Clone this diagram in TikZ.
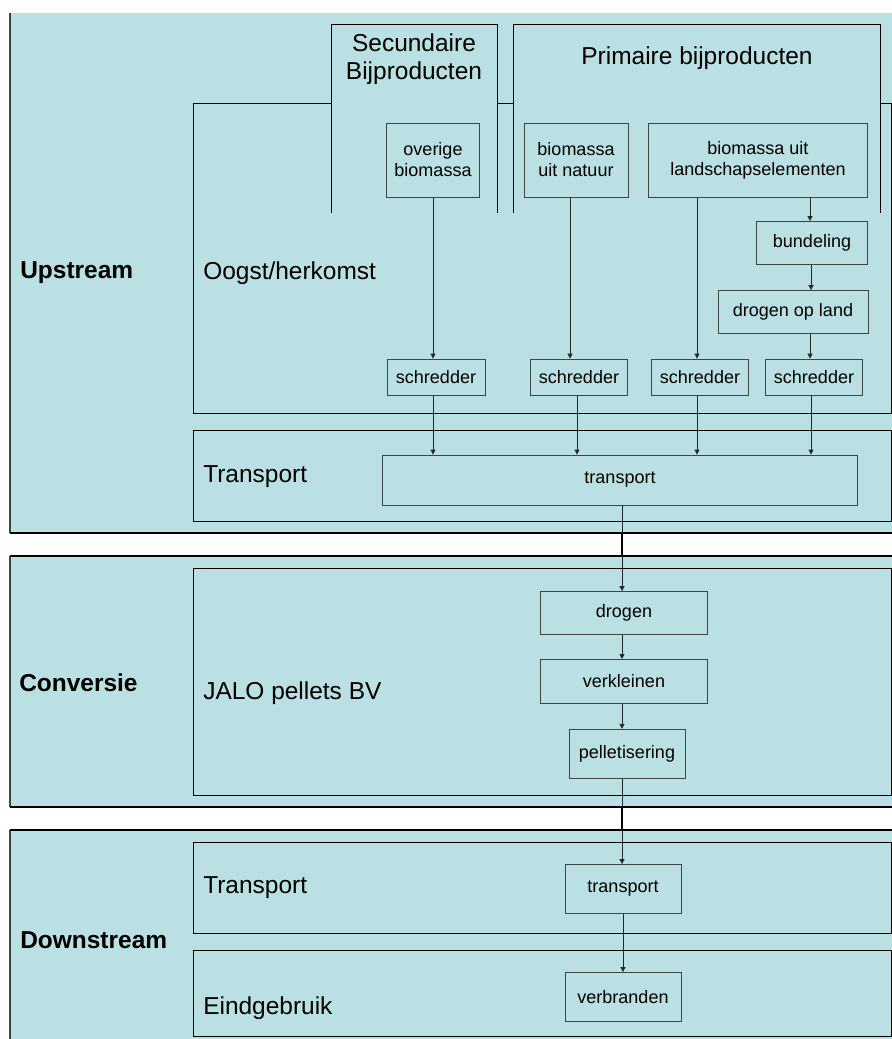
\documentclass[tikz,border=0pt]{standalone}
\usepackage{fontspec}
\setmainfont{Liberation Sans}
\usepackage{tikz}
\usetikzlibrary{arrows.meta, positioning}
\definecolor{bandblue}{RGB}{186,224,228}
\definecolor{edgegray}{RGB}{60,70,72}

\begin{document}
\begin{tikzpicture}[
      x=0.025cm, y=-0.025cm,
      every node/.style={font=\fontsize{12.8}{15}\selectfont},
      proc/.style={draw=edgegray, line width=0.6pt, fill=bandblue, align=center,
                   inner sep=0pt, minimum height=1.85cm},
      lanebox/.style={draw=black, line width=0.6pt},
      lanelabel/.style={anchor=west, inner sep=0pt, font=\fontsize{17.4}{20}\selectfont},
      phase/.style={anchor=west, inner sep=0pt, font=\fontsize{17.4}{20}\selectfont\bfseries},
      flow/.style={-{Triangle[length=3.5pt, width=3.5pt]}, line width=0.6pt, color=black!85},
      gapline/.style={line width=1.6pt},
    ]
    \useasboundingbox (0,0) rectangle (892,1039);

    % Fasen (achtergrond)
    \fill[bandblue] (10,13) rectangle (892,533);
    \fill[bandblue] (10,556) rectangle (892,807);
    \fill[bandblue] (10,830) rectangle (892,1039);
    \draw[edgegray, line width=0.9pt] (10,13) -- (10,533);
    \draw[edgegray, line width=0.9pt] (10,556) -- (10,807);
    \draw[edgegray, line width=0.9pt] (10,830) -- (10,1039);
    \draw[gapline] (10,533) -- (892,533);
    \draw[line width=1pt] (10,556) -- (892,556);
    \draw[gapline] (10,807) -- (892,807);
    \draw[gapline] (10,830) -- (892,830);
    \coordinate (gapA) at (0,533);
    \coordinate (gapB) at (0,556);
    \coordinate (gapC) at (0,807);
    \coordinate (gapD) at (0,830);

    % Banen
    \draw[lanebox] (193,103) rectangle (891,413);
    \draw[lanebox] (193,430) rectangle (891,521);
    \draw[lanebox] (193,568) rectangle (891,795);
    \draw[lanebox] (193,842) rectangle (891,933);
    \draw[lanebox] (193,950) rectangle (891,1036);

    % Herkomst categorieen
    \fill[bandblue] (331,24) rectangle (497,213);
    \draw[lanebox] (331,213) -- (331,24) -- (497,24) -- (497,213);
    \fill[bandblue] (513,24) rectangle (880,213);
    \draw[lanebox] (513,213) -- (513,24) -- (880,24) -- (880,213);
    \node[align=center, font=\fontsize{17.4}{20}\selectfont] (secund) at (414,59)
      {Secundaire\\Bijproducten};
    \node[font=\fontsize{17.4}{20}\selectfont] (primair) at (697,58) {Primaire bijproducten};

    % Fase- en baanlabels
    \node[phase] (upstream)   at (20,273) {Upstream};
    \node[phase] (conversie)  at (19,683) {Conversie};
    \node[phase] (downstream) at (20,940) {Downstream};
    \node[lanelabel] (oogst)  at (203,273) {Oogst/herkomst};
    \node[lanelabel] (transup) at (203,477) {Transport};
    \node[lanelabel] (jalo)   at (203,693) {JALO pellets BV};
    \node[lanelabel] (transdown) at (203,888) {Transport};
    \node[lanelabel] (eind)   at (203,1008) {Eindgebruik};

    % Bronnen
    \node[proc, minimum width=2.325cm] (overige) at (433,160) {overige\\biomassa};
    \node[proc, minimum width=2.6cm]   (natuur)  at (576,160) {biomassa\\uit natuur};
    \node[proc, minimum width=5.475cm] (landschap) at (758,160)
      {biomassa uit\\landschapselementen};
    \node[proc, minimum width=2.775cm, minimum height=1.075cm] (bundel) at (812,243) {bundeling};
    \node[proc, minimum width=3.75cm, minimum height=1.075cm] (dropland) at (793,312) {drogen op land};

    % Schredders
    \node[proc, minimum width=2.45cm, minimum height=0.9cm] (schredA) at (436,377) {schredder};
    \node[proc, minimum width=2.425cm, minimum height=0.9cm] (schredB) at (579,377) {schredder};
    \node[proc, minimum width=2.425cm, minimum height=0.9cm] (schredC) at (700,377) {schredder};
    \node[proc, minimum width=2.425cm, minimum height=0.9cm] (schredD) at (814,377) {schredder};

    \node[proc, minimum width=11.875cm, minimum height=1.25cm] (transp) at (620,480) {transport};

    % Conversie
    \node[proc, minimum width=4.175cm, minimum height=1.075cm] (drogen) at (624,613) {drogen};
    \node[proc, minimum width=4.175cm, minimum height=1.1cm, below=0.6cm of drogen] (verklein) {verkleinen};
    \node[proc, minimum width=2.9cm, minimum height=1.225cm, below=0.625cm of verklein,
          xshift=0.075cm] (pellet) {pelletisering};

    % Downstream
    \node[proc, minimum width=2.9cm, minimum height=1.225cm] (transd) at (623,889) {transport};
    \node[proc, minimum width=2.9cm, minimum height=1.225cm] (verbrand) at (623,997) {verbranden};

    % Pijlen herkomst -> schredder
    \draw[flow] (overige.south) -- (overige.south |- schredA.north);
    \draw[flow] (natuur.south -| schredB.north) ++(-9,0) coordinate (natA) -- (natA |- schredB.north);
    \draw[flow] (schredC.north |- landschap.south) ++(-3,0) coordinate (lsA) -- (lsA |- schredC.north);
    \draw[flow] (bundel.north |- landschap.south) ++(-2,0) coordinate (lsB) -- (lsB |- bundel.north);
    \draw[flow] (bundel.south) ++(-1,0) coordinate (bdA) -- (bdA |- dropland.north);
    \draw[flow] (schredD.north |- dropland.south) ++(-4,0) coordinate (dlA) -- (dlA |- schredD.north);

    % Pijlen schredder -> transport
    \draw[flow] (schredA.south) ++(-3,0) coordinate (sA) -- (sA |- transp.north);
    \draw[flow] (schredB.south) ++(-2,0) coordinate (sB) -- (sB |- transp.north);
    \draw[flow] (schredC.south) ++(-3,0) coordinate (sC) -- (sC |- transp.north);
    \draw[flow] (schredD.south) ++(-3,0) coordinate (sD) -- (sD |- transp.north);

    % Keten
    \draw[flow] (transp.south) ++(2,0) coordinate (tA) -- (tA |- drogen.north);
    \draw[gapline] (tA |- gapA) -- (tA |- gapB);
    \draw[flow] (drogen.south) ++(-2,0) coordinate (dA) -- (dA |- verklein.north);
    \draw[flow] (verklein.south) ++(-2,0) coordinate (vA) -- (vA |- pellet.north);
    \draw[flow] (pellet.south) ++(-5,0) coordinate (pA) -- (pA |- transd.north);
    \draw[gapline] (pA |- gapC) -- (pA |- gapD);
    \draw[flow] (transd.south) -- (verbrand.north);

  \end{tikzpicture}
\end{document}
